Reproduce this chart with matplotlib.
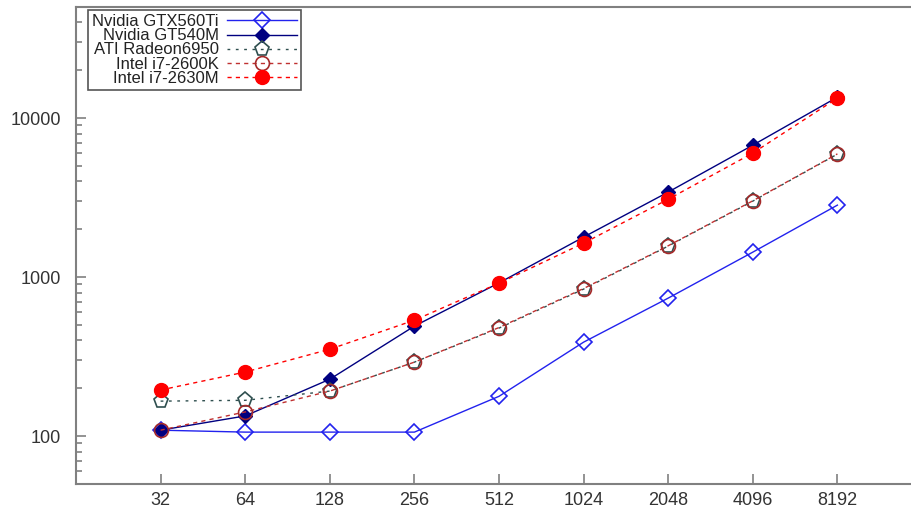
import numpy as np
import matplotlib
matplotlib.use('Agg')
from matplotlib import pyplot as plt
from matplotlib.ticker import FixedLocator, NullFormatter, LogLocator

plt.rcParams['font.family'] = ['Liberation Sans', 'DejaVu Sans']

sizes = [32, 64, 128, 256, 512, 1024, 2048, 4096, 8192]
gtx560ti = [109, 106, 106, 106, 178, 390, 738, 1436, 2837]
gt540m = [109, 134, 228, 492, 920, 1786, 3428, 6760, 13550]
radeon6950 = [166, 168, 192, 292, 478, 841, 1568, 3006, 5940]
i7_2600k = [109, 142, 192, 292, 482, 848, 1575, 3020, 5960]
i7_2630m = [195, 253, 352, 536, 916, 1636, 3090, 6030, 13370]

fig = plt.figure(figsize=(9.11, 5.08), dpi=100)
# right edge of the frame lies off the canvas, as in the original
ax = fig.add_axes([76 / 911, 24 / 508, 864 / 911, 477 / 508])

ax.plot(sizes, gtx560ti, color='#2222ee', lw=1, marker='D', ms=8, mfc='none', mec='#2222ee', mew=1.2,
        label='Nvidia GTX560Ti')
ax.plot(sizes, gt540m, color='#000080', lw=1, marker='D', ms=7, mfc='#000080', mec='#000080',
        label='Nvidia GT540M')
ax.plot(sizes, radeon6950, color='#2f4f4f', lw=1, ls=(0, (2, 4)), marker='p', ms=11, mfc='none',
        mec='#2f4f4f', mew=1.2, label='ATI Radeon6950')
ax.plot(sizes, i7_2600k, color='#c03030', lw=1, ls=(0, (3, 3)), marker='o', ms=10, mfc='none',
        mec='#a52a2a', mew=1.2, label='Intel i7-2600K')
ax.plot(sizes, i7_2630m, color='#ff0000', lw=1, ls=(0, (3, 3)), marker='o', ms=10, mfc='#ff0000',
        mec='#ff0000', label='Intel i7-2630M')

ax.set_xscale('log', base=2)
ax.set_yscale('log')
ax.set_xlim(16, 16 * 2 ** (864 / 84.6))
ax.set_ylim(50, 50000)

ax.xaxis.set_major_locator(FixedLocator(sizes))
ax.set_xticklabels([str(s) for s in sizes])
ax.xaxis.set_minor_locator(FixedLocator([]))
ax.yaxis.set_major_locator(FixedLocator([100, 1000, 10000]))
ax.set_yticklabels(['100', '1000', '10000'])
ax.yaxis.set_minor_locator(LogLocator(base=10, subs=np.arange(2, 10)))
ax.yaxis.set_minor_formatter(NullFormatter())

ax.tick_params(which='both', direction='in', colors='#808080', labelcolor='#333333', labelsize=13)
ax.tick_params(which='major', length=7, width=1.2)
ax.tick_params(which='minor', length=4, width=1.2)
ax.tick_params(axis='y', pad=11)
ax.tick_params(axis='x', top=False, pad=6)
ax.tick_params(axis='y', right=False)
for sp in ax.spines.values():
    sp.set_color('#808080')
    sp.set_linewidth(1.5)
ax.spines['right'].set_visible(False)

leg = ax.legend(loc='upper left', bbox_to_anchor=(12 / 864, 1 - 3 / 477), markerfirst=False,
                fontsize=12, labelspacing=-0.05, handlelength=4.2, handletextpad=0.5,
                borderpad=0.25, borderaxespad=0, fancybox=False, framealpha=1, edgecolor='#555555')
leg.get_frame().set_linewidth(1.2)
for t in leg.get_texts():
    t.set_ha('right')
    t.set_color('#222222')
leg._legend_box.align = 'right'

fig.savefig('out.png', dpi=100)
